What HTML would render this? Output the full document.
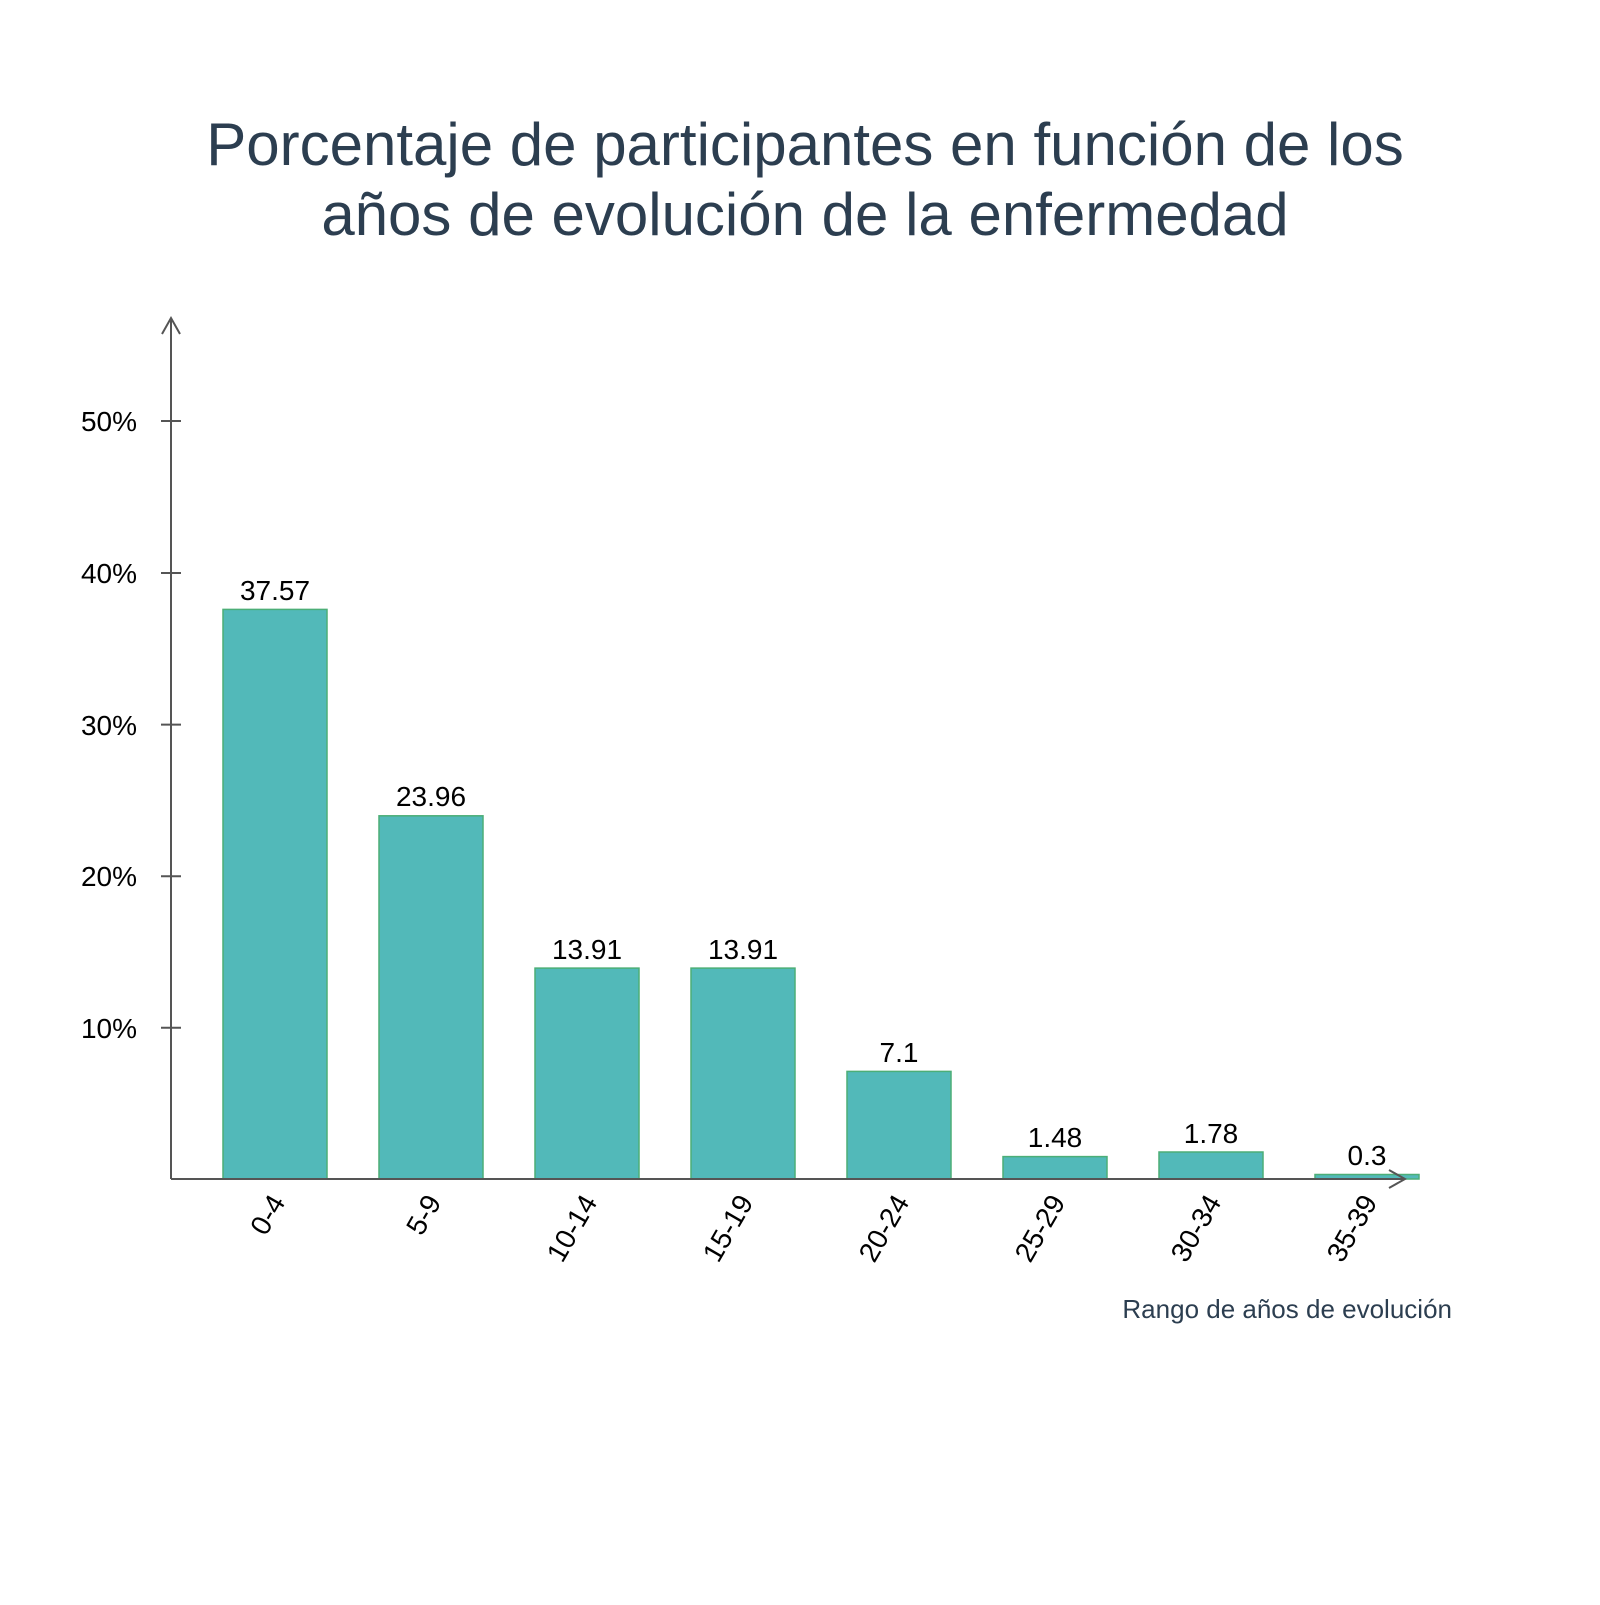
<!DOCTYPE html>
<html><head><meta charset="utf-8"><style>body{margin:0;background:#fff}</style></head>
<body>
<svg width="1600" height="1600" xmlns="http://www.w3.org/2000/svg" font-family="Liberation Sans, Arial, sans-serif">
<rect width="1600" height="1600" fill="#fff"/>
<g fill="#2c3e50" font-size="60" text-anchor="middle">
<text x="805" y="165">Porcentaje de participantes en función de los</text>
<text x="805" y="235">años de evolución de la enfermedad</text>
</g>
<g fill="#52b9b9" stroke="#4cae77" stroke-width="1.5">
<rect x="223" y="609.4" width="104" height="569.6"/>
<rect x="379" y="815.8" width="104" height="363.2"/>
<rect x="535" y="968.1" width="104" height="210.9"/>
<rect x="691" y="968.1" width="104" height="210.9"/>
<rect x="847" y="1071.4" width="104" height="107.6"/>
<rect x="1003" y="1156.6" width="104" height="22.4"/>
<rect x="1159" y="1152" width="104" height="27"/>
<rect x="1315" y="1174.5" width="104" height="4.5"/>
</g>
<g stroke="#555" stroke-width="2" fill="none">
<line x1="171" y1="318" x2="171" y2="1179"/>
<polyline points="162,334 171,318 180,334"/>
<line x1="171" y1="1179" x2="1405" y2="1179"/>
<polyline points="1389,1170 1405,1179 1389,1188"/>
<line x1="161" y1="421" x2="181" y2="421"/>
<line x1="161" y1="573" x2="181" y2="573"/>
<line x1="161" y1="724.6" x2="181" y2="724.6"/>
<line x1="161" y1="876.2" x2="181" y2="876.2"/>
<line x1="161" y1="1027.8" x2="181" y2="1027.8"/>
</g>
<g fill="#000" font-size="28" text-anchor="end">
<text x="137" y="431">50%</text>
<text x="137" y="583">40%</text>
<text x="137" y="735">30%</text>
<text x="137" y="886">20%</text>
<text x="137" y="1038">10%</text>
</g>
<g fill="#000" font-size="28" text-anchor="middle">
<text x="275" y="600">37.57</text>
<text x="431" y="806">23.96</text>
<text x="587" y="959">13.91</text>
<text x="743" y="959">13.91</text>
<text x="899" y="1062">7.1</text>
<text x="1055" y="1147">1.48</text>
<text x="1211" y="1143">1.78</text>
<text x="1367" y="1165">0.3</text>
</g>
<g fill="#000" font-size="28" text-anchor="end">
<text transform="translate(286,1202) rotate(-60)">0-4</text>
<text transform="translate(442,1202) rotate(-60)">5-9</text>
<text transform="translate(598,1202) rotate(-60)">10-14</text>
<text transform="translate(754,1202) rotate(-60)">15-19</text>
<text transform="translate(910,1202) rotate(-60)">20-24</text>
<text transform="translate(1066,1202) rotate(-60)">25-29</text>
<text transform="translate(1222,1202) rotate(-60)">30-34</text>
<text transform="translate(1378,1202) rotate(-60)">35-39</text>
</g>
<text x="1452" y="1318" fill="#2c3e50" font-size="26" text-anchor="end">Rango de años de evolución</text>
</svg>
</body></html>
